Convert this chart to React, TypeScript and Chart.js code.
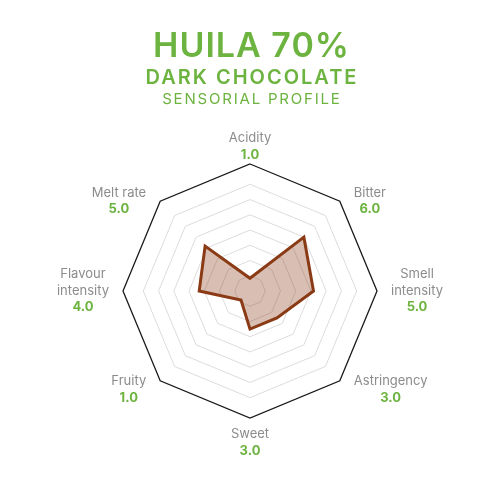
import { useEffect, useRef } from "react"
import { Chart, registerables } from "chart.js"
import type { Plugin } from "chart.js"

Chart.register(...registerables)

// chart data
const attributes = [["Acidity"], ["Bitter"], ["Smell", "intensity"], ["Astringency"], ["Sweet"], ["Fruity"], ["Flavour", "intensity"], ["Melt rate"]]
const scores = [1, 6, 5, 3, 3, 1, 4, 5]
const ringValues = [0, 1.2, 2.4, 3.6, 4.8, 6, 7.2, 8.4, 10]
const titleLines = ["HUILA 70%", "DARK CHOCOLATE", "SENSORIAL PROFILE"]

const GREEN = "#6cb33f"
const GREY = "#8c8c8c"
const FONT = "Inter, 'Open Sans', sans-serif"

// header text drawn straight onto the canvas
const headerPlugin: Plugin<"radar"> = {
  id: "header",
  afterDraw(chart) {
    const ctx: any = chart.ctx
    const line = (text: string, font: string, spacing: number, y: number) => {
      ctx.font = font
      ctx.letterSpacing = `${spacing}px`
      // letter spacing adds a trailing gap, shift back by half of it
      ctx.fillText(text, 251 + spacing / 2, y)
    }
    ctx.save()
    ctx.fillStyle = GREEN
    ctx.textAlign = "center"
    ctx.textBaseline = "alphabetic"
    line(titleLines[0], `600 34px ${FONT}`, 1, 57)
    line(titleLines[1], `600 20px ${FONT}`, 2, 84)
    line(titleLines[2], `400 15px ${FONT}`, 1.8, 104)
    ctx.letterSpacing = "0px"
    ctx.restore()
  },
}

// name (grey) + score (green) next to every corner of the scale
const cornerLabels: Plugin<"radar"> = {
  id: "cornerLabels",
  afterDraw(chart) {
    const scale: any = chart.scales.r
    const ctx = chart.ctx
    const lineH = 16.5
    const gapX = 14
    ctx.save()
    ctx.textAlign = "center"
    ctx.textBaseline = "middle"
    attributes.forEach((lines, i) => {
      const value = scores[i].toFixed(1)
      const all = [...lines, value]
      ctx.font = `400 13px ${FONT}`
      const w = Math.max(...lines.map((l) => ctx.measureText(l).width))
      const h = all.length * lineH
      const p = scale.getPointPosition(i, scale.drawingArea)
      const cos = Math.cos(p.angle)
      const sin = Math.sin(p.angle)
      let cx = p.x
      let cy = p.y
      if (cos > 0.1) cx += gapX + w / 2
      else if (cos < -0.1) cx -= gapX + w / 2
      if (sin < -0.9) cy -= h / 2 + 1
      else if (sin > 0.9) cy += h / 2 + 8
      else if (sin > 0.1) cy += h * 0.27
      const top = cy - h / 2 + lineH / 2
      all.forEach((text, j) => {
        const isValue = j === all.length - 1
        ctx.font = isValue ? `700 13px ${FONT}` : `400 13px ${FONT}`
        ctx.fillStyle = isValue ? GREEN : GREY
        ctx.fillText(text, cx, top + j * lineH)
      })
    })
    ctx.restore()
  },
}

export default function App() {
  const canvasRef = useRef<HTMLCanvasElement>(null)
  const chartRef = useRef<Chart | null>(null)

  useEffect(() => {
    if (!canvasRef.current) return
    if (chartRef.current) chartRef.current.destroy()

    chartRef.current = new Chart(canvasRef.current, {
      type: "radar",
      data: {
        labels: attributes.map((l) => l.join(" ")),
        datasets: [
          {
            data: scores,
            borderColor: "#8a3a14",
            backgroundColor: "rgba(139, 61, 23, 0.33)",
            borderWidth: 3,
            borderJoinStyle: "miter",
            pointRadius: 0,
            pointHoverRadius: 0,
            fill: true,
          },
        ],
      },
      options: {
        animation: false,
        responsive: true,
        maintainAspectRatio: false,
        layout: { padding: { left: 123, right: 124, top: 164, bottom: 82 } },
        plugins: {
          legend: { display: false },
          title: { display: false },
          tooltip: { enabled: false },
        },
        scales: {
          r: {
            min: 0,
            max: 10,
            afterBuildTicks: (scale) => {
              scale.ticks = ringValues.map((v) => ({ value: v }))
            },
            ticks: { display: false },
            pointLabels: { display: false },
            angleLines: { display: false },
            grid: {
              color: (ctx) => (ctx.tick && ctx.tick.value === 10 ? "#1a1a1a" : "#dcdcdc"),
              lineWidth: (ctx) => (ctx.tick && ctx.tick.value === 10 ? 1.3 : 1),
            },
          },
        },
      },
      plugins: [headerPlugin, cornerLabels],
    })

    return () => {
      if (chartRef.current) {
        chartRef.current.destroy()
        chartRef.current = null
      }
    }
  }, [])

  return (
    <div style={{ position: "absolute", left: 0, top: 0, width: 501, height: 500, background: "#fff" }}>
      <canvas ref={canvasRef} />
    </div>
  )
}
